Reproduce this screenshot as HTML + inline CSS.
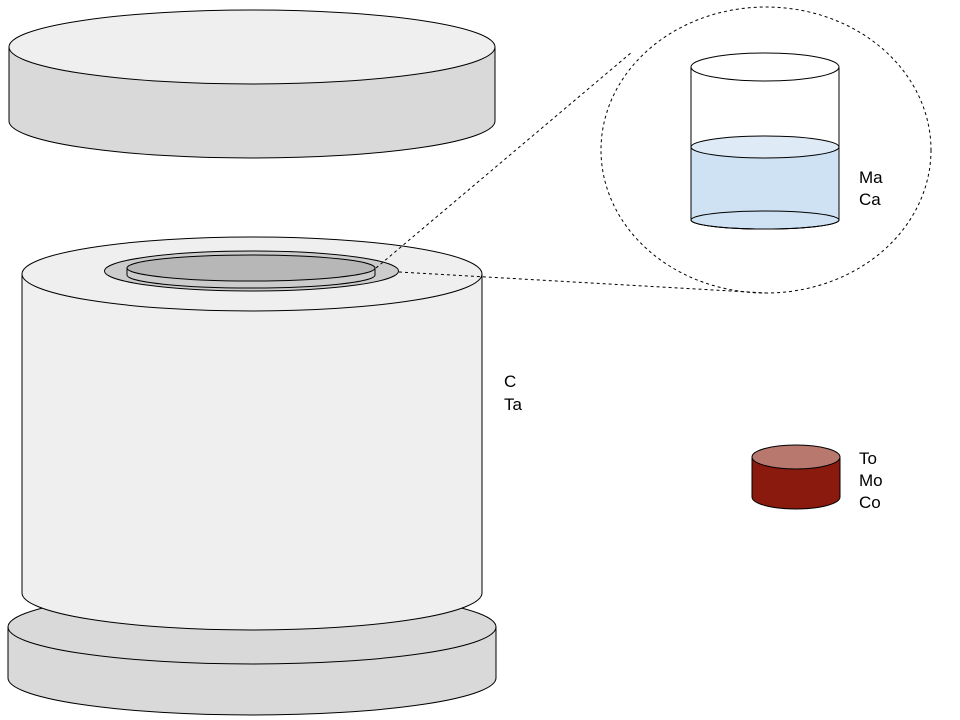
<!DOCTYPE html>
<html><head><meta charset="utf-8"><style>
html,body{margin:0;padding:0;background:#fff;}
svg{display:block;}
text{font-family:"Liberation Sans",sans-serif;font-size:17px;fill:#000;}
</style></head><body>
<svg width="960" height="720" viewBox="0 0 960 720">
<g stroke="#000" stroke-width="1">
 <g>
  <path d="M9 47 V121 A243 37 0 0 0 495 121 V47 Z" fill="#d9d9d9"/>
  <ellipse cx="252" cy="47" rx="243" ry="37" fill="#efefef"/>
 </g>
 <g>
  <path d="M8 627 V678 A244 37 0 0 0 496 678 V627 Z" fill="#d9d9d9"/>
  <ellipse cx="252" cy="627" rx="244" ry="37" fill="#d9d9d9"/>
 </g>
 <g>
  <path d="M22 274 V593 A230 37 0 0 0 482 593 V274 Z" fill="#efefef"/>
  <ellipse cx="252" cy="274" rx="230" ry="37" fill="#efefef"/>
 </g>
 <g>
  <ellipse cx="251.5" cy="271" rx="147" ry="20" fill="#cccccc"/>
  <path d="M127 268 V275 A124 13 0 0 0 375 275 V268 Z" fill="#cccccc"/>
  <ellipse cx="251" cy="268" rx="124" ry="13" fill="#b7b7b7"/>
 </g>
 <g fill="none" stroke-dasharray="3,3">
  <ellipse cx="766" cy="150" rx="165" ry="143"/>
  <line x1="376" y1="268" x2="632" y2="52"/>
  <line x1="399" y1="272" x2="766" y2="293"/>
 </g>
 <g>
  <path d="M691 147 V220 A74 9 0 0 0 839 220 V147 Z" fill="#cfe2f3"/>
  <ellipse cx="765" cy="220" rx="74" ry="9" fill="#cfe2f3"/>
  <path d="M691 147 V220 A74 9 0 0 0 839 220 V147" fill="none"/>
  <ellipse cx="765" cy="147" rx="74" ry="11" fill="#deebf7"/>
  <path d="M691 67 V147 M839 67 V147" fill="none"/>
  <ellipse cx="765" cy="67" rx="74" ry="14" fill="#fff"/>
 </g>
 <g>
  <path d="M752 457 V497 A44 12 0 0 0 840 497 V457 Z" fill="#8b1a0e"/>
  <ellipse cx="796" cy="457" rx="44" ry="12" fill="#b8786e"/>
 </g>
</g>
<text x="859" y="183">Ma</text>
<text x="859" y="205">Ca</text>
<text x="504" y="387">C</text>
<text x="504" y="410">Ta</text>
<text x="859" y="464">To</text>
<text x="859" y="486">Mo</text>
<text x="859" y="508">Co</text>
</svg>
</body></html>
